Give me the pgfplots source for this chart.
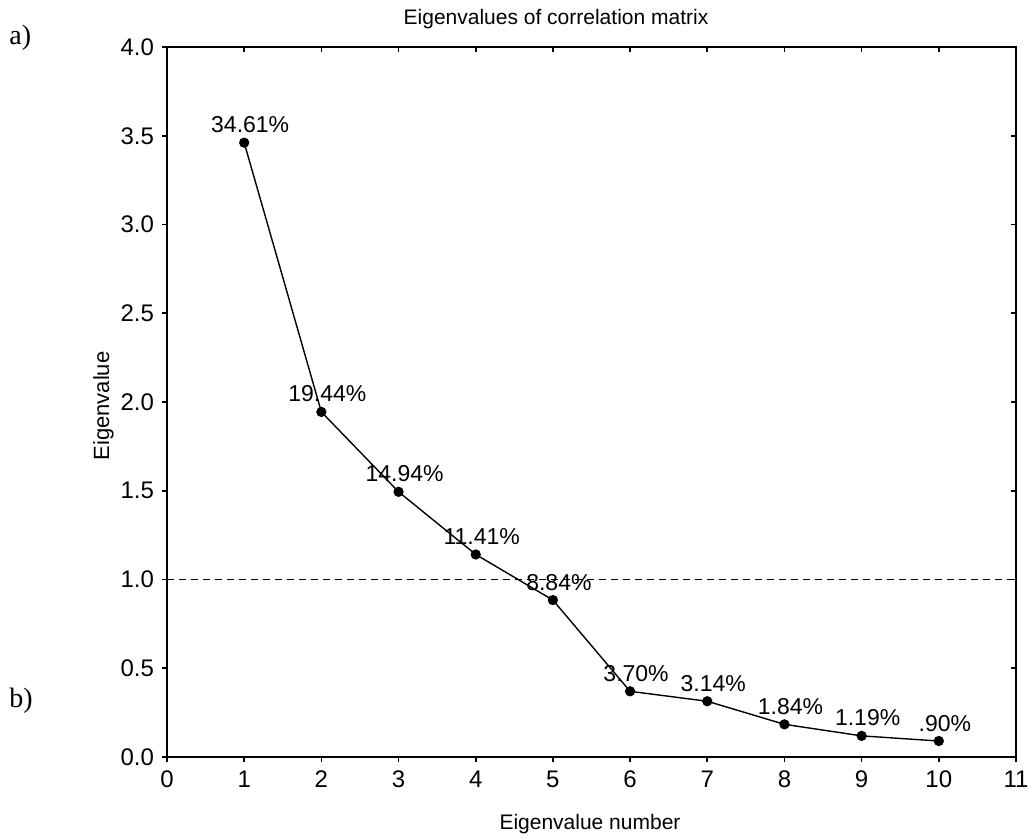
\documentclass[border=0pt]{standalone}
\usepackage{pgfplots}
\pgfplotsset{compat=1.18}
\usepackage{fontspec}
\setmainfont{Liberation Sans}
\newfontfamily\timesfont{Liberation Serif}
\begin{document}
\begin{tikzpicture}
\path[use as bounding box] (0,0) rectangle (514pt,420pt);
\begin{axis}[
  at={(83.5pt,41.5pt)}, anchor=south west,
  scale only axis, width=424.5pt, height=355pt,
  xmin=0, xmax=11, ymin=0, ymax=4,
  xtick={0,1,...,11}, ytick={0,0.5,...,4},
  tick pos=left, tick align=outside,
  major tick length=2.5pt,
  axis line style={line width=1pt},
  tick style={line width=0.8pt, black},
  /pgf/number format/assume math mode=true,
  ticklabel style={font=\fontsize{12}{14}\selectfont},
  yticklabel style={/pgf/number format/fixed, /pgf/number format/fixed zerofill, /pgf/number format/precision=1, xshift=-0.5pt},
  xticklabel style={/pgf/number format/fixed, yshift=-1pt},
  clip=false,
]
\addplot[black, line width=0.7pt, dash pattern=on 3.5pt off 2.5pt] coordinates {(0,1) (11,1)};
\addplot[black, line width=0.7pt, mark=*, mark size=2.2pt,
  point meta=explicit symbolic,
  nodes near coords={\pgfplotspointmeta\%},
  nodes near coords style={font=\fontsize{11.5}{13}\selectfont, anchor=base, inner sep=0pt, xshift=3pt, yshift=5pt}]
coordinates {
(1,3.461) [34.61]
(2,1.944) [19.44]
(3,1.494) [14.94]
(4,1.141) [11.41]
(5,0.884) [8.84]
(6,0.370) [3.70]
(7,0.314) [3.14]
(8,0.184) [1.84]
(9,0.119) [1.19]
(10,0.090) [.90]
};
\end{axis}
\begin{axis}[
  at={(83.5pt,41.5pt)}, anchor=south west,
  scale only axis, width=424.5pt, height=355pt,
  xmin=0, xmax=11, ymin=0, ymax=4,
  xtick={0,1,...,11}, ytick={0,0.5,...,4},
  tick pos=right, tick align=inside,
  major tick length=2.5pt,
  tick style={line width=0.8pt, black},
  axis line style={line width=1pt},
  xticklabels={}, yticklabels={},
]
\end{axis}
\node[font=\fontsize{10.5}{12}\selectfont, anchor=base] at (278pt,407.5pt) {Eigenvalues of correlation matrix};
\node[font=\fontsize{10.5}{12}\selectfont, anchor=base] at (295pt,5pt) {Eigenvalue number};
\node[font=\fontsize{11}{12}\selectfont, rotate=90, anchor=base] at (54.5pt,217pt) {Eigenvalue};
\node[font=\timesfont\fontsize{14}{16}\selectfont, anchor=base west, inner sep=0pt] at (4.5pt,397.5pt) {a)};
\node[font=\timesfont\fontsize{14}{16}\selectfont, anchor=base west, inner sep=0pt] at (4.5pt,66pt) {b)};
\end{tikzpicture}
\end{document}
